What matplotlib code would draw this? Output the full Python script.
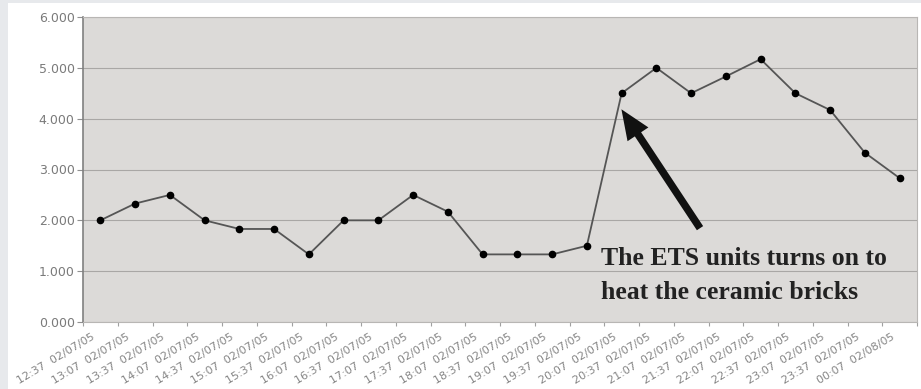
import matplotlib.pyplot as plt
from matplotlib.patches import Rectangle
import numpy as np


TIMES = ["12:37", "13:07", "13:37", "14:07", "14:37", "15:07", "15:37", "16:07",
         "16:37", "17:07", "17:37", "18:07", "18:37", "19:07", "19:37", "20:07",
         "20:37", "21:07", "21:37", "22:07", "22:37", "23:07", "23:37", "00:07"]
DATES = ["02/07/05"] * 23 + ["02/08/05"]
VALUES = [2.00, 2.33, 2.50, 2.00, 1.83, 1.83, 1.33, 2.00, 2.00, 2.50, 2.17, 1.33,
          1.33, 1.33, 1.50, 4.50, 5.00, 4.50, 4.83, 5.17, 4.50, 4.17, 3.33, 2.83]
Y_TICKS = [0, 1, 2, 3, 4, 5, 6]

NOTE = "The ETS units turns on to\nheat the ceramic bricks"
NOTE_POINT = 15


fig = plt.figure(figsize=(9.21, 3.89), dpi=100, facecolor="#e7e9ec")
fig.patches.append(Rectangle((8 / 921, 0), 1, 1 - 3 / 389, transform=fig.transFigure,
                             facecolor="white", edgecolor="none", zorder=-1))

ax = fig.add_axes([83 / 921, 1 - 322 / 389, (917 - 83) / 921, (322 - 17) / 389])
ax.set_facecolor("#dcdad8")

x = np.arange(len(VALUES))
ax.plot(x, VALUES, color="#555555", lw=1.3, marker="o", ms=4.5,
        mfc="black", mec="black", zorder=3)

ax.set_xlim(-0.5, len(VALUES) - 0.5)
ax.set_ylim(0, 6)

ax.set_yticks(Y_TICKS)
ax.set_yticklabels([f"{v:.3f}" for v in Y_TICKS], fontsize=9, color="#7a7a7a")
ax.yaxis.grid(True, color="#a9a7a5", lw=0.8)
ax.set_axisbelow(True)

# ticks sit on the category boundaries; the slanted labels end just left of each category
ax.set_xticks(np.arange(len(VALUES) + 1) - 0.5)
ax.set_xticklabels([])
ax.set_xticks(x - 0.25, minor=True)
labels = [f"{t}  {d}" for t, d in zip(TIMES, DATES)]
ax.set_xticklabels(labels, minor=True, rotation=31, ha="right", va="top",
                   rotation_mode="anchor", fontsize=8, color="#858585")
ax.tick_params(axis="x", which="minor", length=0, pad=7)
ax.tick_params(axis="x", which="major", length=3, color="#a0a0a0")
ax.tick_params(axis="y", length=4, color="#909090", pad=2)

for side in ["top", "right", "bottom"]:
    ax.spines[side].set_color("#b8b6b4")
ax.spines["left"].set_color("#808080")
ax.spines["left"].set_linewidth(1.2)

ax.annotate("", xy=(NOTE_POINT - 0.05, VALUES[NOTE_POINT] - 0.27), xytext=(17.3, 1.8),
            arrowprops=dict(arrowstyle="simple,head_length=1.2,head_width=1.0,tail_width=0.3",
                            mutation_scale=18, color="#111111", lw=0))

ax.text(0.621, 0.152, NOTE, transform=ax.transAxes, ha="left", va="center",
        fontsize=18.5, family="Liberation Serif", fontweight="bold",
        color="#222222", linespacing=1.65)

fig.savefig("out.png", dpi=100, facecolor=fig.get_facecolor())
